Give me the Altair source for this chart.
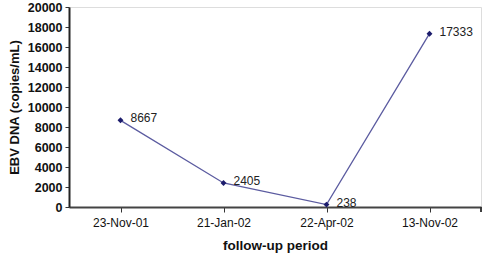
import altair as alt
import pandas as pd

dates = ["23-Nov-01", "21-Jan-02", "22-Apr-02", "13-Nov-02"]
copies = [8667, 2405, 238, 17333]
y_ticks = [0, 2000, 4000, 6000, 8000, 10000, 12000, 14000, 16000, 18000, 20000]

df = pd.DataFrame({"date": dates, "copies": copies, "label": [str(v) for v in copies]})

x = alt.X("date:N", sort=dates, title="follow-up period",
          scale=alt.Scale(paddingInner=0, paddingOuter=0),
          axis=alt.Axis(labelAngle=0, bandPosition=0, labelFontSize=12, labelFont="Liberation Sans",
                        labelColor="#111", labelPadding=5, tickSize=5, tickColor="#333",
                        domainColor="#444", domainWidth=2, titleFontSize=13.5,
                        titleFont="Liberation Sans", titleFontWeight="bold", titleColor="#111",
                        titlePadding=10))
y = alt.Y("copies:Q", title="EBV DNA (copies/mL)",
          scale=alt.Scale(domain=[0, 20000], nice=False),
          axis=alt.Axis(values=y_ticks, format="d", grid=False, labelFontSize=12.5,
                        labelFont="Liberation Sans",
                        labelFontWeight="bold", labelColor="#111", tickSize=4, tickColor="#333",
                        domainColor="#222", domainWidth=2, labelPadding=3, titleFontSize=13,
                        titleFont="Liberation Sans", titleFontWeight="bold", titleColor="#111",
                        titlePadding=6))

base = alt.Chart(df)
line = base.mark_line(color="#5b5ba0", strokeWidth=1.3).encode(x=x, y=y)
pts = base.mark_point(shape="diamond", filled=True, color="#1c1c6c", size=35, opacity=1).encode(x=x, y=y)
labels = base.mark_text(align="left", baseline="middle", dx=10, dy=-2, fontSize=12,
                        font="Liberation Sans", color="#222").encode(x=x, y=y, text="label:N")
end_tick = alt.Chart(df).mark_rule(color="#333", strokeWidth=1).encode(
    x=alt.value(412), y=alt.value(200), y2=alt.value(205))

chart = alt.layer(line, pts, labels, end_tick).properties(
    width=412, height=200,
    autosize=alt.AutoSizeParams(type="none"),
    padding={"left": 69, "top": 7, "right": 2, "bottom": 51},
).configure_view(stroke="#333", strokeWidth=1.5).configure(background="white")

chart.save("out.html", embed_options={"renderer": "svg", "actions": False})
